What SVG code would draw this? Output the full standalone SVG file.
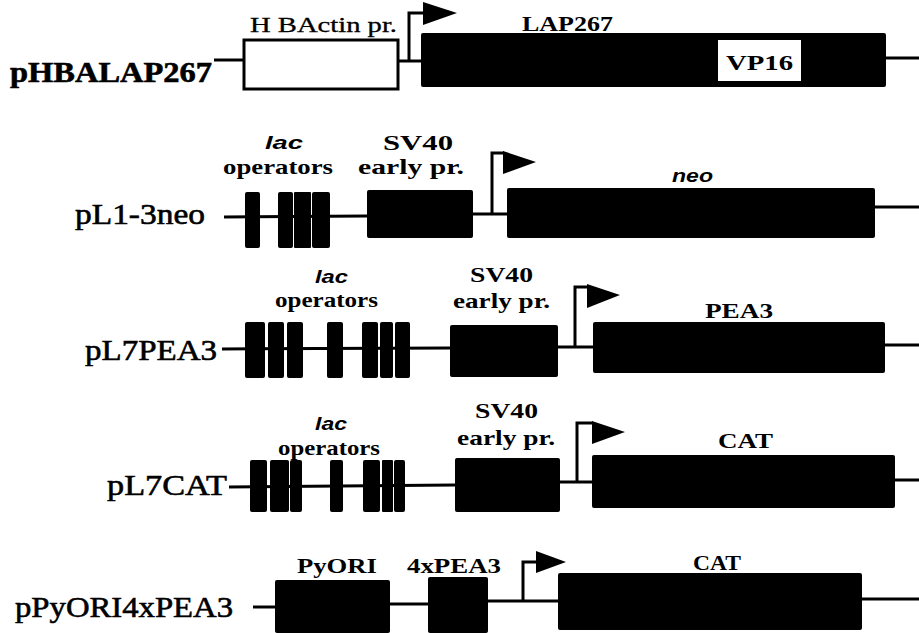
<svg xmlns="http://www.w3.org/2000/svg" width="919" height="633" viewBox="0 0 919 633">
<style>
  .name { font-family: "Liberation Serif", "Times New Roman", serif; font-size: 30px; fill: #000; stroke: #000; stroke-width: 0.6; }
  .lbl { font-family: "Liberation Serif", "Times New Roman", serif; font-size: 22px; font-weight: bold; fill: #000; }
  .lblr { font-family: "Liberation Serif", "Times New Roman", serif; font-size: 20px; fill: #000; stroke: #000; stroke-width: 0.3; }
  .it { font-family: "Liberation Sans", Arial, sans-serif; font-size: 19px; font-style: italic; font-weight: bold; fill: #000; }
  .blk { fill: #000; }
  .wht { fill: #fff; stroke: #000; stroke-width: 3; }
  .ln { stroke: #000; stroke-width: 3; fill: none; }
</style>

<g id="connectors">
  <line class="ln" x1="214" y1="60" x2="244" y2="60"/>
  <line class="ln" x1="398" y1="61" x2="421" y2="61"/>
  <line class="ln" x1="886" y1="58" x2="919" y2="58"/>
  <line class="ln" x1="224" y1="217" x2="367" y2="216"/>
  <line class="ln" x1="473" y1="214" x2="507" y2="214"/>
  <line class="ln" x1="875" y1="207" x2="919" y2="207"/>
  <line class="ln" x1="222" y1="349" x2="450" y2="348"/>
  <line class="ln" x1="558" y1="347" x2="593" y2="347"/>
  <line class="ln" x1="885" y1="345" x2="919" y2="345"/>
  <line class="ln" x1="229" y1="487" x2="455" y2="485"/>
  <line class="ln" x1="560" y1="482" x2="592" y2="482"/>
  <line class="ln" x1="895" y1="480" x2="919" y2="480"/>
  <line class="ln" x1="253" y1="607" x2="275" y2="607"/>
  <line class="ln" x1="390" y1="604" x2="428" y2="604"/>
  <line class="ln" x1="488" y1="601" x2="558" y2="601"/>
  <line class="ln" x1="862" y1="599" x2="919" y2="599"/>
</g>

<g id="pHBALAP267">
  <text class="name" x="10" y="82" textLength="202" lengthAdjust="spacingAndGlyphs" font-weight="bold">pHBALAP267</text>
  <rect class="wht" x="244" y="40" width="154" height="49"/>
  <text class="lblr" x="250" y="32" textLength="147" lengthAdjust="spacingAndGlyphs">H BActin pr.</text>
  <path class="ln" d="M409 61 V13 H424"/>
  <polygon class="blk" points="423,2 457,13 423,25"/>
  <rect class="blk" x="421" y="33" width="465" height="54" rx="2"/>
  <text class="lbl" x="522" y="31" textLength="91" lengthAdjust="spacingAndGlyphs">LAP267</text>
  <rect x="718" y="40" width="83" height="41" fill="#fff"/>
  <text class="lbl" x="726" y="70" font-size="28" textLength="67" lengthAdjust="spacingAndGlyphs">VP16</text>
</g>

<g id="pL1-3neo">
  <text class="name" x="75" y="224" textLength="130" lengthAdjust="spacingAndGlyphs">pL1-3neo</text>
  <rect class="blk" x="245" y="192" width="15" height="56" rx="2"/>
  <rect class="blk" x="278" y="192" width="15" height="56" rx="2"/>
  <rect class="blk" x="294" y="192" width="17" height="56" rx="1"/>
  <rect class="blk" x="312" y="192" width="18" height="56" rx="2"/>
  <text class="it" x="265" y="149" textLength="38" lengthAdjust="spacingAndGlyphs">lac</text>
  <text class="lbl" x="223" y="174" textLength="110" lengthAdjust="spacingAndGlyphs">operators</text>
  <rect class="blk" x="367" y="190" width="106" height="48" rx="2"/>
  <text class="lbl" x="383" y="150" textLength="70" lengthAdjust="spacingAndGlyphs">SV40</text>
  <text class="lbl" x="358" y="174" textLength="106" lengthAdjust="spacingAndGlyphs">early pr.</text>
  <path class="ln" d="M492 214 V153 H504"/>
  <polygon class="blk" points="503,151 536,162 503,174"/>
  <rect class="blk" x="507" y="188" width="368" height="50" rx="2"/>
  <text class="it" x="672" y="182" textLength="41" lengthAdjust="spacingAndGlyphs">neo</text>
</g>

<g id="pL7PEA3">
  <text class="name" x="85" y="360" textLength="132" lengthAdjust="spacingAndGlyphs">pL7PEA3</text>
  <rect class="blk" x="245" y="322" width="20" height="56" rx="2"/>
  <rect class="blk" x="268" y="322" width="16" height="56" rx="2"/>
  <rect class="blk" x="287" y="322" width="16" height="56" rx="2"/>
  <rect class="blk" x="327" y="322" width="16" height="56" rx="2"/>
  <rect class="blk" x="362" y="322" width="16" height="56" rx="2"/>
  <rect class="blk" x="380" y="322" width="13" height="56" rx="2"/>
  <rect class="blk" x="395" y="322" width="15" height="56" rx="2"/>
  <text class="it" x="315" y="283" textLength="33" lengthAdjust="spacingAndGlyphs">lac</text>
  <text class="lbl" x="275" y="307" textLength="103" lengthAdjust="spacingAndGlyphs">operators</text>
  <rect class="blk" x="450" y="325" width="108" height="52" rx="2"/>
  <text class="lbl" x="470" y="282" textLength="63" lengthAdjust="spacingAndGlyphs">SV40</text>
  <text class="lbl" x="453" y="308" textLength="97" lengthAdjust="spacingAndGlyphs">early pr.</text>
  <path class="ln" d="M575 347 V287 H588"/>
  <polygon class="blk" points="587,284 620,295 587,308"/>
  <rect class="blk" x="593" y="322" width="292" height="51" rx="2"/>
  <text class="lbl" x="705" y="318" textLength="68" lengthAdjust="spacingAndGlyphs">PEA3</text>
</g>

<g id="pL7CAT">
  <text class="name" x="107" y="495" textLength="120" lengthAdjust="spacingAndGlyphs">pL7CAT</text>
  <rect class="blk" x="250" y="460" width="17" height="52" rx="2"/>
  <rect class="blk" x="270" y="460" width="19" height="52" rx="2"/>
  <rect class="blk" x="290" y="460" width="12" height="52" rx="2"/>
  <rect class="blk" x="330" y="460" width="13" height="52" rx="2"/>
  <rect class="blk" x="363" y="460" width="17" height="52" rx="2"/>
  <rect class="blk" x="382" y="460" width="11" height="52" rx="1"/>
  <rect class="blk" x="394" y="460" width="11" height="52" rx="2"/>
  <text class="it" x="315" y="430" textLength="32" lengthAdjust="spacingAndGlyphs">lac</text>
  <text class="lbl" x="278" y="455" textLength="102" lengthAdjust="spacingAndGlyphs">operators</text>
  <rect class="blk" x="455" y="458" width="105" height="54" rx="2"/>
  <text class="lbl" x="475" y="418" textLength="63" lengthAdjust="spacingAndGlyphs">SV40</text>
  <text class="lbl" x="457" y="445" textLength="98" lengthAdjust="spacingAndGlyphs">early pr.</text>
  <path class="ln" d="M577 482 V423 H593"/>
  <polygon class="blk" points="592,421 625,432 592,444"/>
  <rect class="blk" x="592" y="455" width="303" height="53" rx="2"/>
  <text class="lbl" x="718" y="448" textLength="55" lengthAdjust="spacingAndGlyphs">CAT</text>
</g>

<g id="pPyORI4xPEA3">
  <text class="name" x="15" y="617" textLength="218" lengthAdjust="spacingAndGlyphs">pPyORI4xPEA3</text>
  <rect class="blk" x="275" y="580" width="115" height="53" rx="2"/>
  <text class="lbl" x="297" y="573" textLength="80" lengthAdjust="spacingAndGlyphs">PyORI</text>
  <rect class="blk" x="428" y="577" width="60" height="56" rx="2"/>
  <text class="lbl" x="407" y="573" textLength="94" lengthAdjust="spacingAndGlyphs">4xPEA3</text>
  <path class="ln" d="M523 601 V562 H537"/>
  <polygon class="blk" points="536,551 566,562 536,573"/>
  <rect class="blk" x="558" y="573" width="304" height="57" rx="2"/>
  <text class="lbl" x="693" y="570" textLength="48" lengthAdjust="spacingAndGlyphs">CAT</text>
</g>
</svg>
